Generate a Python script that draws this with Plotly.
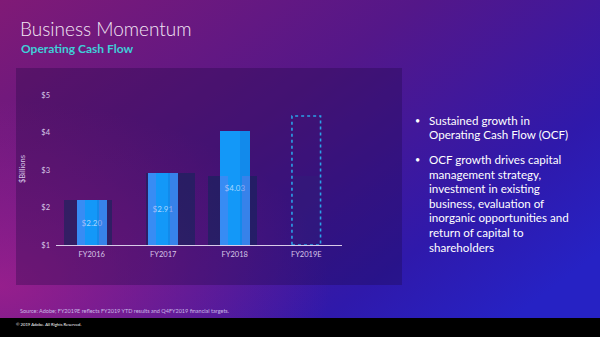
import base64
import plotly.graph_objects as go

# ---- data ----
categories = ["FY2016", "FY2017", "FY2018", "FY2019E"]
ocf_actual = [2.20, 2.91, 4.03]          # $ billions, actual
ocf_target = 4.44                         # FY2019E target (dashed outline)
shadow_vals = [2.20, 2.91, 2.85, 2.85]    # decorative backdrop bars
y_ticks = [1, 2, 3, 4, 5]
y_tick_labels = ["$1", "$2", "$3", "$4", "$5"]
bullet1 = ["Sustained growth in", "Operating Cash Flow (OCF)"]
bullet2 = ["OCF growth drives capital", "management strategy,", "investment in existing",
           "business, evaluation of", "inorganic opportunities and",
           "return of capital to", "shareholders"]

W, H = 600, 337
BASE = 1.0
FONT = "Lato"

# ---- background gradient (svg image) ----
svg = f'''<svg xmlns="http://www.w3.org/2000/svg" width="{W}" height="{H}" viewBox="0 0 {W} {H}" preserveAspectRatio="none">
<defs>
<linearGradient id="g" x1="0" y1="0" x2="1" y2="0.75">
<stop offset="0" stop-color="#801a76"/>
<stop offset="0.45" stop-color="#541789"/>
<stop offset="0.8" stop-color="#2f19ab"/>
<stop offset="1" stop-color="#2622c4"/>
</linearGradient>
<radialGradient id="m" cx="0" cy="0.85" r="0.55">
<stop offset="0" stop-color="#b0228f" stop-opacity="0.7"/>
<stop offset="1" stop-color="#b0228f" stop-opacity="0"/>
</radialGradient>
</defs>
<rect x="0" y="0" width="{W}" height="{H}" fill="url(#g)"/>
<rect x="0" y="0" width="{W}" height="{H}" fill="url(#m)"/>
</svg>'''
bg_uri = "data:image/svg+xml;base64," + base64.b64encode(svg.encode()).decode()

xi = list(range(len(categories)))
fig = go.Figure()

# backdrop (shadow) bars
fig.add_trace(go.Bar(
    x=xi, y=[v - BASE for v in shadow_vals], base=BASE,
    width=[0.68, 0.69, 0.68, 0.38], offset=[-0.39, -0.24, -0.37, -0.19],
    marker=dict(color=["rgba(14,38,88,0.55)", "rgba(14,38,88,0.55)",
                       "rgba(14,38,88,0.55)", "rgba(40,40,120,0.22)"], line=dict(width=0)),
    hoverinfo="skip", showlegend=False))

# main bars
fig.add_trace(go.Bar(
    x=xi[:3], y=[v - BASE for v in ocf_actual], base=BASE,
    width=0.42,
    marker=dict(color="#1398f8", line=dict(width=0)),
    text=[f"${v:.2f}" for v in ocf_actual], textposition="inside",
    insidetextanchor="middle", textangle=0,
    textfont=dict(family=FONT, size=8, color="#a9d6ff"),
    constraintext="none",
    hoverinfo="skip", showlegend=False))

# slightly darker right strip on main bars
fig.add_trace(go.Bar(
    x=xi[:3], y=[v - BASE for v in ocf_actual], base=BASE,
    width=0.14, offset=0.07,
    marker=dict(color="rgba(20,70,170,0.16)", line=dict(width=0)),
    hoverinfo="skip", showlegend=False))

# lavender edges where the backdrop overlaps the bars
edge_h = [min(s, a) - BASE for s, a in zip(shadow_vals, ocf_actual)]
for off in (-0.21, 0.10):
    fig.add_trace(go.Bar(
        x=xi[:3], y=edge_h, base=BASE, width=0.11, offset=off,
        marker=dict(color="rgba(150,110,235,0.28)", line=dict(width=0)),
        hoverinfo="skip", showlegend=False))

# FY2019E target dashed outline
fig.add_shape(type="rect", xref="x", yref="y", x0=3 - 0.2, x1=3 + 0.2, y0=BASE, y1=ocf_target,
              line=dict(color="#2aa2e8", width=1.6, dash="dot"), fillcolor="rgba(0,0,0,0)")

# panel and bottom band
def px_rect(x0, y0, x1, y1, fill):
    fig.add_shape(type="rect", xref="paper", yref="paper", x0=x0 / W, x1=x1 / W,
                  y0=1 - y1 / H, y1=1 - y0 / H, line=dict(width=0), fillcolor=fill, layer="below")

px_rect(16, 68, 402, 285, "rgba(28,8,62,0.30)")
px_rect(0, 318, W, H, "#000000")

fig.update_layout(
    width=W, height=H, margin=dict(l=0, r=0, t=0, b=0, pad=0, autoexpand=False),
    autosize=False,
    paper_bgcolor="#4a1888", plot_bgcolor="rgba(0,0,0,0)",
    barmode="overlay", bargap=0, showlegend=False,
    images=[dict(source=bg_uri, xref="paper", yref="paper", x=0, y=1, sizex=1, sizey=1,
                 xanchor="left", yanchor="top", sizing="stretch", layer="below")],
    xaxis=dict(domain=[56 / W, 342 / W], range=[-0.5, 3.5], tickvals=xi, ticktext=categories,
               showgrid=False, zeroline=False, showline=True, linecolor="#d9cbe9", linewidth=1,
               ticks="", ticklabelstandoff=2, automargin=False,
               tickfont=dict(family=FONT, size=7.5, color="#d8c8e8"), fixedrange=True),
    yaxis=dict(domain=[(H - 245) / H, (H - 95) / H], range=[1, 5], tickvals=y_ticks,
               ticktext=y_tick_labels, showgrid=False, zeroline=False, showline=False, ticks="",
               ticklabelstandoff=5, automargin=False,
               tickfont=dict(family=FONT, size=7.5, color="#d8c8e8"), fixedrange=True),
    font=dict(family=FONT),
)

ann = []
def A(text, x, y, size, color, anchor="left", weight=None, angle=0):
    f = dict(family=FONT, size=size, color=color)
    if weight:
        f["weight"] = weight
    ann.append(dict(text=text, x=x / W, y=1 - y / H, xref="paper", yref="paper",
                    xanchor=anchor, yanchor="middle", showarrow=False, font=f, textangle=angle))

A("Business Momentum", 18, 28.5, 19, "#f2e6f4", weight=300)
A("Operating Cash Flow", 19, 48.5, 12, "#3fcfd8", weight=700)
A("$Billions", 22, 169, 7.5, "#d8c8e8", anchor="center", angle=-90)

yy = 120
A("•", 413, yy, 9, "#ffffff")
for line in bullet1:
    A(line, 427, yy, 11.6, "#ffffff")
    yy += 14.8
yy = 159.5
A("•", 413, yy, 9, "#ffffff")
for line in bullet2:
    A(line, 427, yy, 11.6, "#ffffff")
    yy += 14.6

A("Source: Adobe; FY2019E reflects FY2019 YTD results and Q4FY2019 financial targets.", 18, 311,
  5.5, "#c9b8e6")
A("© 2019 Adobe. All Rights Reserved.", 14, 324, 4.2, "#ffffff")

fig.update_layout(annotations=ann)
fig.write_html("out.html")
